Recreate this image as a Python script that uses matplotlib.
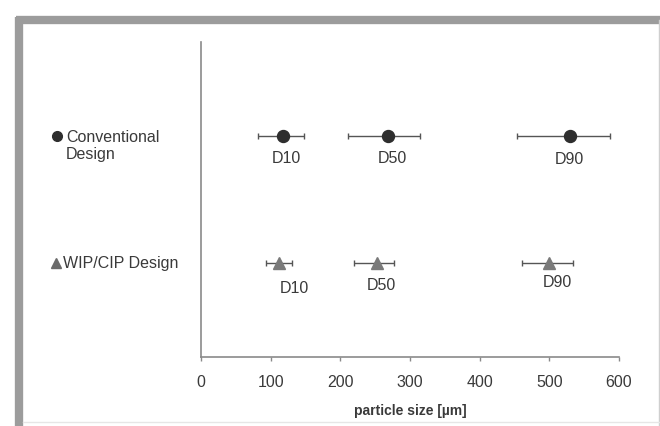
import matplotlib
matplotlib.use("Agg")
import matplotlib.pyplot as plt
import matplotlib.transforms as mtransforms
from matplotlib.lines import Line2D

# ---- data ----
percentiles = ["D10", "D50", "D90"]
conv_vals = [118, 269, 529]
conv_lo = [82, 211, 453]
conv_hi = [148, 315, 587]
wip_vals = [112, 253, 500]
wip_lo = [94, 219, 461]
wip_hi = [130, 277, 534]
series_names = ["Conventional\nDesign", "WIP/CIP Design"]
xticks = [0, 100, 200, 300, 400, 500, 600]
xlabel = "particle size [\u00b5m]"

plt.rcParams['font.family'] = ['Liberation Sans', 'DejaVu Sans']

W, H = 660, 426
fig = plt.figure(figsize=(W / 100, H / 100), dpi=100)
fig.patch.set_facecolor('white')

ax = fig.add_axes([201 / W, 1 - 357 / H, (619 - 201) / W, (357 - 42) / H])
ax.set_xlim(0, 600)
ax.set_ylim(0.26, 2.74)

text_col = '#3a3a3a'
bar_col = '#555555'

rows = [
    (2, conv_vals, conv_lo, conv_hi, 'o', '#2e2e2e', 8.6,
     [(2, -16), (3, -16), (0, -17)]),
    (1, wip_vals, wip_lo, wip_hi, '^', '#7a7a7a', 9.0,
     [(11, -18), (3, -16), (6, -14)]),
]

for y, vals, lo, hi, mk, col, ms, offs in rows:
    xerr = [[v - l for v, l in zip(vals, lo)], [h - v for v, h in zip(vals, hi)]]
    ax.errorbar(vals, [y] * len(vals), xerr=xerr, fmt='none', ecolor=bar_col,
                elinewidth=1.0, capsize=2.0, capthick=1.0, zorder=2)
    ax.plot(vals, [y] * len(vals), linestyle='none', marker=mk, color=col,
            markersize=ms, markeredgecolor=col, zorder=3)
    for v, lab, off in zip(vals, percentiles, offs):
        ax.annotate(lab, (v, y), xytext=off, textcoords='offset points',
                    ha='center', va='center', fontsize=11.5, color=text_col)

# axes styling
for s in ['top', 'right']:
    ax.spines[s].set_visible(False)
ax.spines['left'].set_color('#8a8a8a')
ax.spines['bottom'].set_color('#8a8a8a')
ax.spines['left'].set_linewidth(1.2)
ax.spines['bottom'].set_linewidth(1.2)
ax.set_yticks([])
ax.set_xticks(xticks)
ax.set_xticklabels([str(t) for t in xticks])
ax.tick_params(axis='x', direction='out', length=3, width=1, color='#8a8a8a',
               labelsize=11.5, labelcolor=text_col, pad=10)
ax.set_xlabel(xlabel, fontsize=10, fontweight='bold', color=text_col, labelpad=10)

# left legend-like category labels
trans = mtransforms.blended_transform_factory(fig.transFigure, ax.transData)
ax.plot([57 / W], [2], marker='o', color='#2e2e2e', markersize=7,
        transform=trans, clip_on=False)
ax.annotate(series_names[0], (66 / W, 2), xycoords=trans, xytext=(0, 4.5),
            textcoords='offset points', ha='left', va='top', fontsize=11.5,
            color=text_col, linespacing=1.2)
ax.plot([56 / W], [1], marker='^', color='#6a6a6a', markersize=6.5,
        transform=trans, clip_on=False)
ax.annotate(series_names[1], (63 / W, 1), xycoords=trans, xytext=(0, 0),
            textcoords='offset points', ha='left', va='center', fontsize=11.5,
            color=text_col)

# outer frame
frame_col = '#9c9c9c'
fig.add_artist(Line2D([19 / W, 19 / W], [1 - 17 / H, 0], transform=fig.transFigure,
                      color=frame_col, linewidth=6, solid_capstyle='butt'))
fig.add_artist(Line2D([16 / W, 1], [1 - 20 / H, 1 - 20 / H], transform=fig.transFigure,
                      color=frame_col, linewidth=6, solid_capstyle='butt'))
fig.add_artist(Line2D([658.5 / W, 658.5 / W], [1 - 20 / H, 0], transform=fig.transFigure,
                      color='#cfcfcf', linewidth=1))
fig.add_artist(Line2D([23 / W, 1], [1 - 422 / H, 1 - 422 / H], transform=fig.transFigure,
                      color='#e6e6e6', linewidth=1))

fig.savefig("out.png", dpi=100, facecolor='white')
